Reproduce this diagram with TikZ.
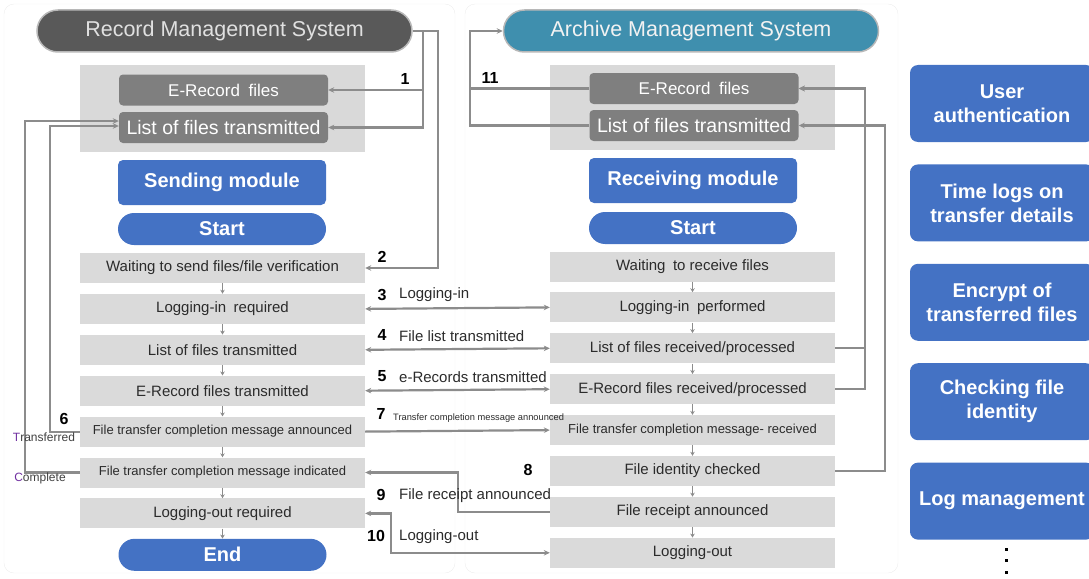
\documentclass[tikz,border=0pt]{standalone}
\usepackage{fontspec}
\setmainfont{Liberation Sans}
\usetikzlibrary{positioning, arrows.meta, shapes.misc}

\definecolor{rmsGray}{HTML}{595959}
\definecolor{amsTeal}{HTML}{3F8FAE}
\definecolor{bgGray}{HTML}{D9D9D9}
\definecolor{fileGray}{HTML}{7F7F7F}
\definecolor{stepGray}{HTML}{DADADA}
\definecolor{modBlue}{HTML}{4472C4}
\definecolor{lineGray}{HTML}{8C8C8C}
\definecolor{textDark}{HTML}{2B2B2B}
\definecolor{markPurple}{HTML}{7030A0}

\newcommand{\setfs}[1]{\fontsize{#1}{#1}\selectfont}

\begin{document}
\begin{tikzpicture}[
    x=1pt, y=-1pt,
    node distance=10.5pt,
    sysbox/.style={
        rounded rectangle,
        draw=white!72!black,
        line width=1.5pt,
        minimum width=375pt,
        minimum height=42pt,
        inner sep=0pt,
        font=\setfs{21.5}
    },
    bgbox/.style={fill=bgGray, minimum width=285pt, inner sep=0pt},
    filebox/.style={
        fill=fileGray,
        rounded corners=4pt,
        minimum width=209pt,
        minimum height=31pt,
        inner sep=0pt,
        text=white
    },
    modbox/.style={
        fill=modBlue,
        rounded corners=5pt,
        minimum width=208pt,
        minimum height=45pt,
        inner sep=0pt,
        text=white,
        font=\bfseries\setfs{20}
    },
    pill/.style={
        rounded rectangle,
        fill=modBlue,
        minimum width=208pt,
        minimum height=32pt,
        inner sep=0pt,
        text=white,
        font=\bfseries\setfs{20}
    },
    stepbox/.style={
        fill=stepGray,
        minimum width=285pt,
        minimum height=30pt,
        inner sep=0pt,
        text=textDark,
        font=\setfs{15}
    },
    featbox/.style={
        fill=modBlue,
        rounded corners=8pt,
        minimum width=184pt,
        minimum height=77pt,
        inner sep=0pt,
        align=center,
        text=white,
        font=\bfseries\fontsize{20}{24}\selectfont
    },
    conn/.style={draw=lineGray, line width=2.2pt},
    flow/.style={draw=lineGray, line width=1pt, -{Stealth[length=4pt,width=4.5pt]}},
    numlbl/.style={font=\bfseries\setfs{16}, inner sep=0pt},
    msglbl/.style={font=\setfs{15}, text=textDark, inner sep=0pt, anchor=west},
    >={Stealth[length=6pt,width=5.5pt]}
]

\useasboundingbox (0,0) rectangle (1089,578);

%% ── Panels ───────────────────────────────────────────────────────────────────
\draw[black!7, rounded corners=10pt] (4,4) rectangle (455,573);
\draw[black!7, rounded corners=10pt] (465,4) rectangle (898,573);

%% ── Record Management System (sending side) ──────────────────────────────────
\node[sysbox, fill=rmsGray, text=white!88!black] (rms) at (224.5,31)
    {Record Management System};

\node[bgbox, minimum height=87pt] (rmsBg) at (222.5,108.5) {};
\node[filebox, font=\setfs{17}] (rmsRec) at (223.5,90) {E-Record\enspace files};
\node[filebox, font=\setfs{19.5}] (rmsList) at (223.5,127.5) {List of files transmitted};

\node[modbox] (sMod) at (222,182.5) {Sending module};
\node[pill] (sStart) at (222,229) {Start};

\node[stepbox] (sWait) at (222.5,268) {Waiting to send files/file verification};
\node[stepbox, below=of sWait] (sLogin) {Logging-in\enspace required};
\node[stepbox, below=of sLogin] (sList) {List of files transmitted};
\node[stepbox, below=of sList] (sRec) {E-Record files transmitted};
\node[stepbox, below=of sRec, font=\setfs{13}] (sAnn)
    {File transfer completion message announced};
\node[stepbox, below=of sAnn, font=\setfs{13}] (sInd)
    {File transfer completion message indicated};
\node[stepbox, below=of sInd] (sOut) {Logging-out required};
\node[pill, below=10pt of sOut] (sEnd) {End};

%% ── Archive Management System (receiving side) ───────────────────────────────
\node[sysbox, fill=amsTeal, text=white!95!black] (ams) at (691,31)
    {Archive Management System};

\node[bgbox, minimum height=85pt] (amsBg) at (692.5,107.5) {};
\node[filebox, font=\setfs{17}] (amsRec) at (694,88.5) {E-Record\enspace files};
\node[filebox, font=\setfs{19.5}] (amsList) at (694,125.5) {List of files transmitted};

\node[modbox] (rMod) at (693,180.5) {Receiving module};
\node[pill] (rStart) at (693,228) {Start};

\node[stepbox] (rWait) at (692.5,266.5) {Waiting\enspace to receive files};
\node[stepbox, below=of rWait] (rLogin) {Logging-in\enspace performed};
\node[stepbox, below=of rLogin] (rList) {List of files received/processed};
\node[stepbox, below=of rList] (rRec) {E-Record files received/processed};
\node[stepbox, below=of rRec, font=\setfs{13}] (rAnn)
    {File transfer completion message- received};
\node[stepbox, below=of rAnn] (rCheck) {File identity checked};
\node[stepbox, below=of rCheck] (rRcpt) {File receipt announced};
\node[stepbox, below=of rRcpt] (rOut) {Logging-out};

%% ── Flow inside each module ──────────────────────────────────────────────────
\foreach \a/\b in {sWait/sLogin, sLogin/sList, sList/sRec, sRec/sAnn,
                   sAnn/sInd, sInd/sOut, sOut/sEnd,
                   rWait/rLogin, rLogin/rList, rList/rRec, rRec/rAnn,
                   rAnn/rCheck, rCheck/rRcpt, rRcpt/rOut}
    \draw[flow] (\a.south) -- (\b.north);

%% ── 1, 2: RMS hands over files ───────────────────────────────────────────────
\draw[conn, ->] (rms.east) -- ++(10,0) |- (rmsList.east);
\draw[conn, ->] (rms.east) ++(10,0) |- (rmsRec.east);
\draw[conn, ->] (rms.east) -- ++(25,0) |- (sWait.east);
\node[numlbl] (n1) at (405,79) {1};
\node[numlbl] (n2) at (382,257) {2};

%% ── 3, 4, 5: exchange between modules ────────────────────────────────────────
\draw[conn, <->] (sLogin.east) -- (rLogin.west);
\node[numlbl] (n3) at (382,295) {3};
\node[msglbl] (m3) at (399,295) {Logging-in};

\draw[conn, <->] (sList.east) -- (rList.west);
\node[numlbl] (n4) at (382,335) {4};
\node[msglbl] (m4) at (399,336) {File list transmitted};

\draw[conn, <->] (sRec.east) -- (rRec.west);
\node[numlbl] (n5) at (382,376) {5};
\node[msglbl] (m5) at (399,377) {e-Records transmitted};

%% ── 6: completion back to the list ──────────────────────────────────────────
\draw[conn, ->] (sAnn.west) -- ++(-30,0) |- ([yshift=1.5pt]rmsList.west);
\draw[conn, ->] (sInd.west) -- ++(-55,0) |- ([yshift=6.5pt]rmsList.west);
\node[numlbl] (n6) at (64,419) {6};
\node[font=\setfs{12}, text=black!75, inner sep=0pt] (tTrans) at (44,437)
    {\textcolor{markPurple}{T}ransferred};
\node[font=\setfs{12}, text=black!75, inner sep=0pt] (tComp) at (40,478)
    {\textcolor{markPurple}{C}omplete};

%% ── 7: completion message ───────────────────────────────────────────────────
\draw[conn, ->] (sAnn.east) -- (rAnn.west);
\node[numlbl] (n7) at (381,414) {7};
\node[font=\setfs{9.3}, text=textDark, inner sep=0pt, anchor=west] (m7) at (393,418)
    {Transfer completion message announced};

%% ── 8, 9: receipt announced ─────────────────────────────────────────────────
\draw[conn, ->] (rRcpt.west) -- ++(-92,0) |- (sInd.east);
\node[numlbl] (n8) at (528,470) {8};
\node[numlbl] (n9) at (381,495) {9};
\node[msglbl] (m9) at (399,496) {File receipt announced};

%% ── 10: logging out ─────────────────────────────────────────────────────────
\draw[conn, <->] (sOut.east) -- ++(26,0) |- (rOut.west);
\node[numlbl] (n10) at (376,536) {10};
\node[msglbl] (m10) at (399,537) {Logging-out};

%% ── 11: files to the archive system ─────────────────────────────────────────
\draw[conn] (amsRec.west) -- ++(-119,0);
\draw[conn, ->] (amsList.west) -- ++(-119,0) |- (ams.west);
\node[numlbl] (n11) at (490,78) {11};

%% ── Receiving side updates its lists ────────────────────────────────────────
\draw[conn, ->] (rList.east) -- ++(30,0) |- (amsRec.east);
\draw[conn, ->] (rRec.east) -- ++(30,0) |- (amsRec.east);
\draw[conn, ->] (rCheck.east) -- ++(50,0) |- (amsList.east);

%% ── Functions column ────────────────────────────────────────────────────────
\node[featbox] (fAuth) at (1002,103.5) {User\\authentication};
\node[featbox, below=22pt of fAuth] (fTime) {Time logs on\\transfer details};
\node[featbox, below=22pt of fTime] (fCrypt) {Encrypt of\\transferred files};
\node[featbox, below=22pt of fCrypt] (fIdent) {Checking file\\identity};
\node[featbox, below=22pt of fIdent] (fLog) {Log management};
\foreach \y in {549,560,572}
    \fill (1004.5,\y-1.5) rectangle ++(3.5,3.5);

\end{tikzpicture}
\end{document}
